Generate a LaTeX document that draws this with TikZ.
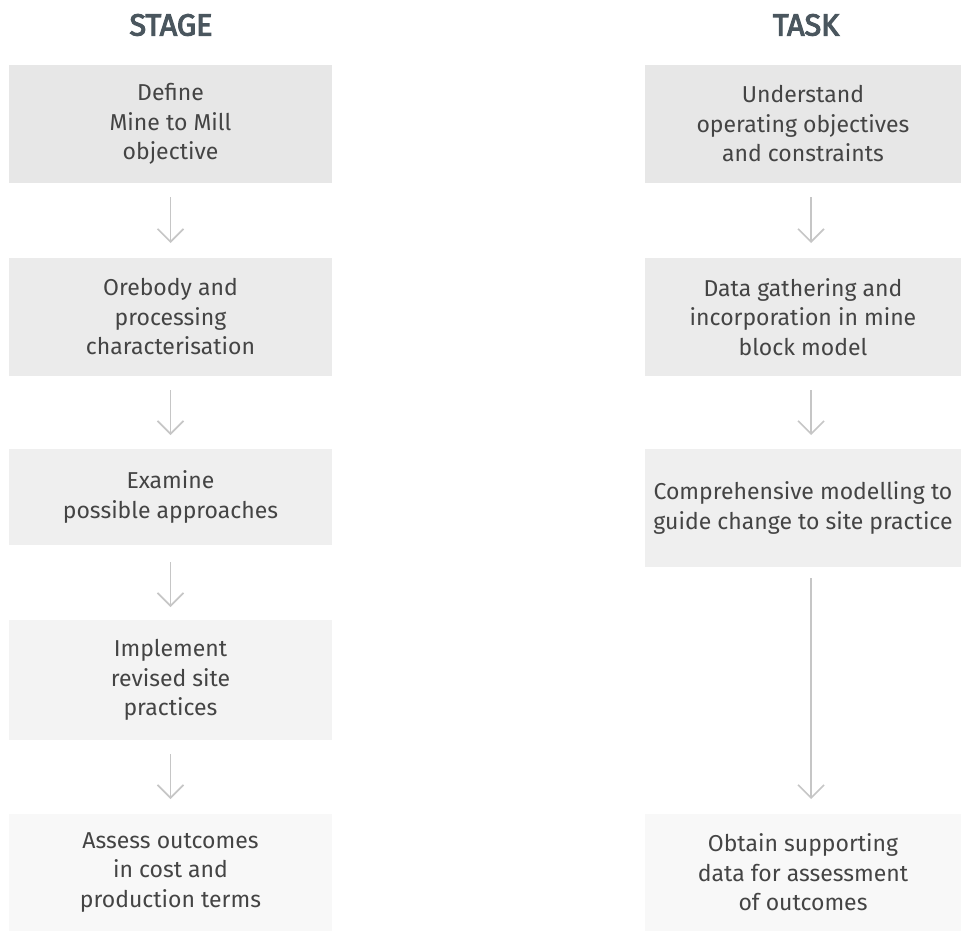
\documentclass[tikz,border=0pt]{standalone}
\usepackage{fontspec}
\setmainfont{Fira Sans}
\newfontfamily\headfont{Fira Sans}[FakeBold=3.5]
\usetikzlibrary{arrows.meta}
\definecolor{txt}{HTML}{444444}
\definecolor{head}{HTML}{4A565E}
\definecolor{arr}{HTML}{C6C6C6}
\definecolor{fa}{HTML}{E7E7E7}
\definecolor{fb}{HTML}{EBEBEB}
\definecolor{fc}{HTML}{EFEFEF}
\definecolor{fd}{HTML}{F3F3F3}
\definecolor{fe}{HTML}{F8F8F8}
\tikzset{
  stagebox/.style={rectangle, anchor=north west, inner sep=0pt, outer sep=0pt,
    text=txt, align=center, font=\fontsize{23}{29.5}\selectfont},
  heading/.style={text=head, font=\headfont\fontsize{30.5}{36}\selectfont},
  flow/.style={draw=arr, line width=1.6pt, -{Straight Barb[length=13pt,width=26pt]}}
}
\begin{document}
\begin{tikzpicture}[x=1pt,y=-1pt]
\useasboundingbox (0,0) rectangle (961,931);
% headings
\node[heading] (hstage) at (171,25) {STAGE};
\node[heading] (htask) at (806,25) {TASK};
% left column
\node[stagebox, fill=fa, minimum width=323pt, minimum height=118pt] (l1) at (9,65) {Define\\Mine to Mill\\objective};
\node[stagebox, fill=fb, minimum width=323pt, minimum height=118pt] (l2) at (9,258) {Orebody and\\processing\\characterisation};
\node[stagebox, fill=fc, minimum width=323pt, minimum height=96pt] (l3) at (9,449) {Examine\\possible approaches};
\node[stagebox, fill=fd, minimum width=323pt, minimum height=120pt] (l4) at (9,620) {Implement\\revised site\\practices};
\node[stagebox, fill=fe, minimum width=323pt, minimum height=117pt] (l5) at (9,814) {Assess outcomes\\in cost and\\production terms};
% right column
\node[stagebox, fill=fa, minimum width=316pt, minimum height=118pt] (r1) at (645,65) {Understand\\operating objectives\\and constraints};
\node[stagebox, fill=fb, minimum width=316pt, minimum height=118pt] (r2) at (645,258) {Data gathering and\\incorporation in mine\\block model};
\node[stagebox, fill=fc, minimum width=316pt, minimum height=118pt] (r3) at (645,449) {Comprehensive modelling to\\guide change to site practice};
\node[stagebox, fill=fe, minimum width=316pt, minimum height=117pt] (r5) at (645,814) {Obtain supporting\\data for assessment\\of outcomes};
% arrows
\draw[flow] ([yshift=-14pt]l1.south) -- ([yshift=15pt]l2.north);
\draw[flow] ([yshift=-14pt]l2.south) -- ([yshift=14pt]l3.north);
\draw[flow] ([yshift=-17pt]l3.south) -- ([yshift=13pt]l4.north);
\draw[flow] ([yshift=-14pt]l4.south) -- ([yshift=15pt]l5.north);
\draw[flow] ([xshift=8pt,yshift=-14pt]r1.south) -- ([xshift=8pt,yshift=15pt]r2.north);
\draw[flow] ([xshift=8pt,yshift=-14pt]r2.south) -- ([xshift=8pt,yshift=14pt]r3.north);
\draw[flow] ([xshift=8pt,yshift=-11pt]r3.south) -- ([xshift=8pt,yshift=15pt]r5.north);
\end{tikzpicture}
\end{document}
